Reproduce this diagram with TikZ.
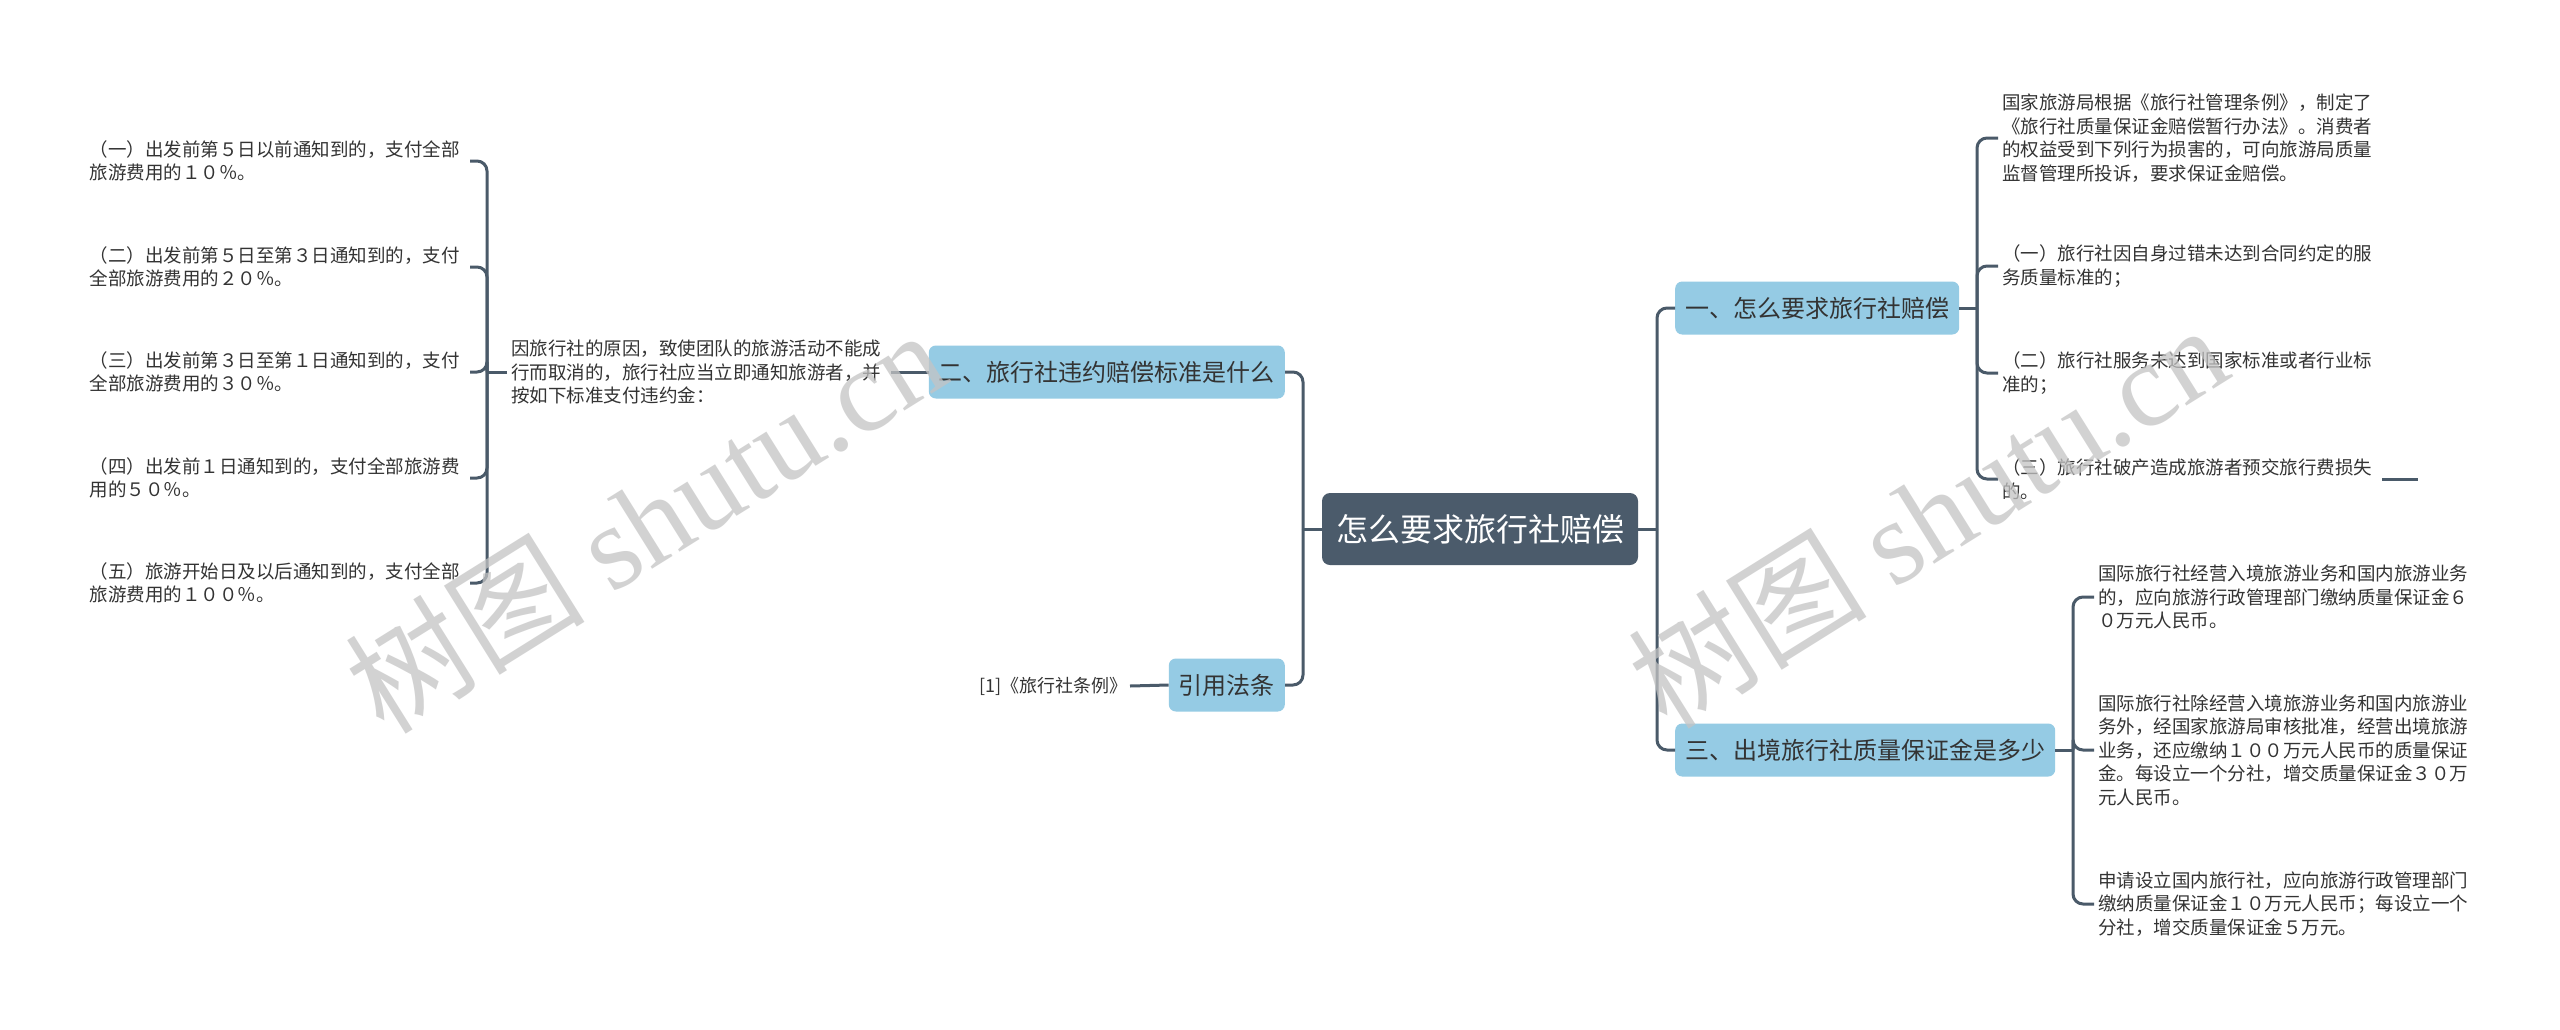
\documentclass[tikz,border=0pt]{standalone}
\usepackage{fontspec}
\setmainfont{Noto Sans CJK SC}
\newfontfamily\wmserif{Liberation Serif}
\definecolor{trunkc}{HTML}{4A5A69}
\definecolor{rootc}{HTML}{4B5B6B}
\definecolor{topicc}{HTML}{95CBE4}
\definecolor{txtc}{HTML}{333333}
\definecolor{wmc}{HTML}{C4C4C4}
\tikzset{
  rootbox/.style={fill=rootc, text=white, rounded corners=8pt, minimum height=72pt, minimum width=316pt, inner xsep=12pt, font=\fontsize{32}{36}\selectfont},
  topicbox/.style={fill=topicc, text=txtc, rounded corners=7pt, minimum height=53pt, inner xsep=10pt, font=\fontsize{24}{28}\selectfont},
  leaf/.style={text=txtc, align=left, text width=376pt, inner xsep=4pt, inner ysep=2pt, font=\fontsize{18.5}{23.5}\selectfont},
  conn/.style={draw=trunkc, line width=3pt},
  rconn/.style={conn, rounded corners=10pt},
  wmark/.style={text=wmc, text opacity=.75, rotate=32, font=\fontsize{120}{130}\selectfont}
}
\begin{document}
\begin{tikzpicture}[x=1pt,y=-1pt]
\useasboundingbox[fill=white] (0,0) rectangle (2560,1029);

% main nodes
\node[rootbox] (root) at (1480,529) {怎么要求旅行社赔偿};
\node[topicbox, anchor=east] (t2) at (1285,372) {二、旅行社违约赔偿标准是什么};
\node[topicbox, anchor=east] (tref) at (1285,685) {引用法条};
\node[topicbox, anchor=west] (t1) at (1675,308) {一、怎么要求旅行社赔偿};
\node[topicbox, anchor=west] (t3) at (1675,750) {三、出境旅行社质量保证金是多少};

% left branch
\node[leaf, anchor=west] (mid) at (507,372) {因旅行社的原因，致使团队的旅游活动不能成\\行而取消的，旅行社应当立即通知旅游者，并\\按如下标准支付违约金：};
\node[leaf, anchor=east] (l1) at (470,161) {（一）出发前第５日以前通知到的，支付全部\\旅游费用的１０％。};
\node[leaf, anchor=east] (l2) at (470,267) {（二）出发前第５日至第３日通知到的，支付\\全部旅游费用的２０％。};
\node[leaf, anchor=east] (l3) at (470,372) {（三）出发前第３日至第１日通知到的，支付\\全部旅游费用的３０％。};
\node[leaf, anchor=east] (l4) at (470,478) {（四）出发前１日通知到的，支付全部旅游费\\用的５０％。};
\node[leaf, anchor=east] (l5) at (470,583) {（五）旅游开始日及以后通知到的，支付全部\\旅游费用的１００％。};
\node[anchor=east, text=txtc, inner xsep=2pt, font=\fontsize{18}{22}\selectfont] (reftext) at (1130,686) {[1]《旅行社条例》};

% right branch
\node[leaf, anchor=west] (r0) at (1998,138) {国家旅游局根据《旅行社管理条例》，制定了\\《旅行社质量保证金赔偿暂行办法》。消费者\\的权益受到下列行为损害的，可向旅游局质量\\监督管理所投诉，要求保证金赔偿。};
\node[leaf, anchor=west] (r1) at (1998,266) {（一）旅行社因自身过错未达到合同约定的服\\务质量标准的；};
\node[leaf, anchor=west] (r2) at (1998,373) {（二）旅行社服务未达到国家标准或者行业标\\准的；};
\node[leaf, anchor=west] (r3) at (1998,479) {（三）旅行社破产造成旅游者预交旅行费损失\\的。};
\node[leaf, anchor=west] (s1) at (2094,597) {国际旅行社经营入境旅游业务和国内旅游业务\\的，应向旅游行政管理部门缴纳质量保证金６\\０万元人民币。};
\node[leaf, anchor=west] (s2) at (2094,750) {国际旅行社除经营入境旅游业务和国内旅游业\\务外，经国家旅游局审核批准，经营出境旅游\\业务，还应缴纳１００万元人民币的质量保证\\金。每设立一个分社，增交质量保证金３０万\\元人民币。};
\node[leaf, anchor=west] (s3) at (2094,904) {申请设立国内旅行社，应向旅游行政管理部门\\缴纳质量保证金１０万元人民币；每设立一个\\分社，增交质量保证金５万元。};

% junctions
\coordinate (jL) at (1303,529);
\coordinate (jR) at (1657,529);
\coordinate (jM) at (487,372);
\coordinate (j1) at (1977,308);
\coordinate (j3) at (2073,750);
\coordinate (r3end) at (2418,479);

% connectors
\draw[conn] (root.west) -- (jL);
\draw[rconn] (jL) |- (t2.east);
\draw[rconn] (jL) |- (tref.east);
\draw[conn] (root.east) -- (jR);
\draw[rconn] (jR) |- (t1.west);
\draw[rconn] (jR) |- (t3.west);

\draw[conn] (t2.west) -- (mid.east);
\draw[conn] (mid.west) -- (jM);
\draw[rconn] (jM) |- (l1.east);
\draw[rconn] (jM) |- (l2.east);
\draw[rconn] (jM) |- (l3.east);
\draw[rconn] (jM) |- (l4.east);
\draw[rconn] (jM) |- (l5.east);
\draw[conn] (tref.west) -- (reftext.east);

\draw[conn] (t1.east) -- (j1);
\draw[rconn] (j1) |- (r0.west);
\draw[rconn] (j1) |- (r1.west);
\draw[rconn] (j1) |- (r2.west);
\draw[rconn] (j1) |- (r3.west);
\draw[conn] (r3.east) -- (r3end);

\draw[conn] (t3.east) -- (j3);
\draw[rconn] (j3) |- (s1.west);
\draw[rconn] (j3) |- (s2.west);
\draw[rconn] (j3) |- (s3.west);

% watermarks
\node[wmark] (wm1) at (645,520) {树图 {\wmserif shutu.cn}};
\node[wmark] (wm2) at (1927,515) {树图 {\wmserif shutu.cn}};
\end{tikzpicture}
\end{document}
